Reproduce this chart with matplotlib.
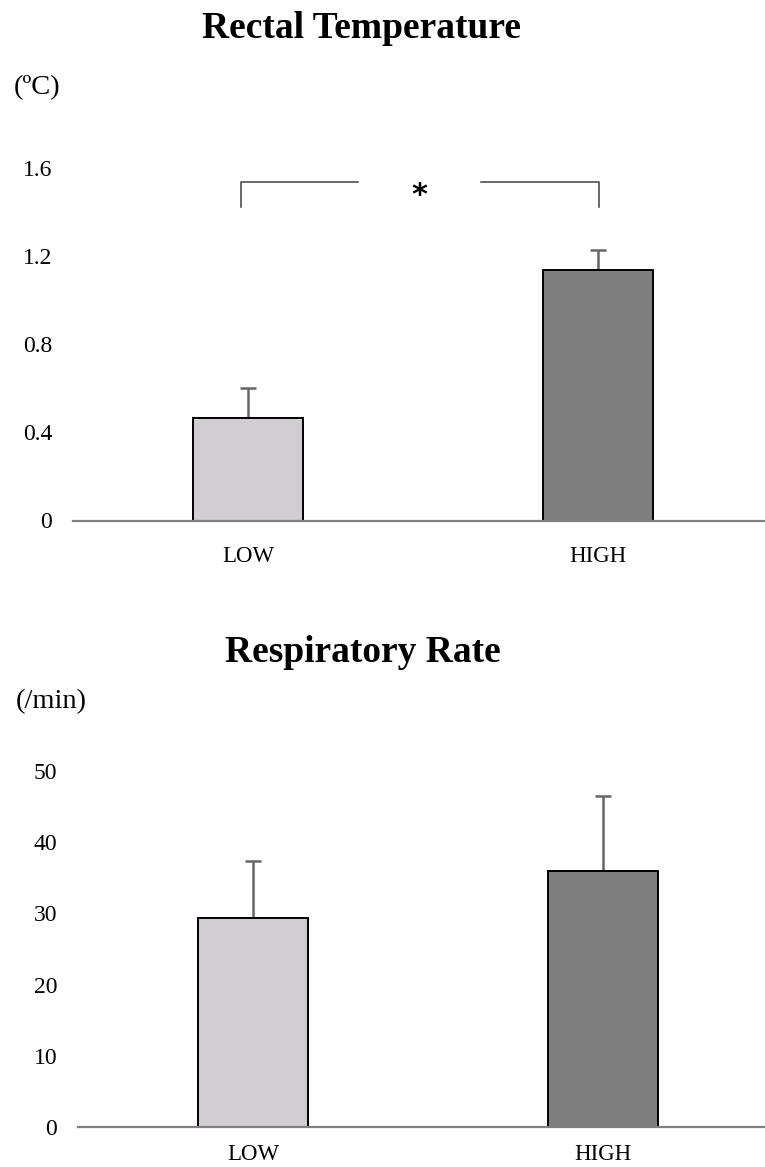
import matplotlib.pyplot as plt
import numpy as np

plt.rcParams['font.family'] = ['Liberation Serif', 'DejaVu Serif']

groups = ['LOW', 'HIGH']
bar_colors = ['#D0CED0', '#7F7F7F']

# Rectal temperature change (ºC), mean and upper SD
temp_mean = [0.466, 1.137]
temp_err = [0.136, 0.089]
temp_ticks = [0, 0.4, 0.8, 1.2, 1.6]
temp_tick_labels = ['0', '0.4', '0.8', '1.2', '1.6']

# Respiratory rate change (/min)
resp_mean = [29.3, 35.95]
resp_err = [8.1, 10.55]
resp_ticks = [0, 10, 20, 30, 40, 50]

W, H = 765, 1167
fig = plt.figure(figsize=(W / 100, H / 100), dpi=100)


def make_axes(left_px, base_px, top_px):
    # axes box in pixel coords -> figure fraction
    return fig.add_axes([left_px / W, (H - base_px) / H,
                         700 / W, (base_px - top_px) / H])


def draw_bars(ax, means, errs, ticks, tick_labels, ymax, xpad):
    x = np.arange(len(groups))
    ax.bar(x, means, width=0.314, color=bar_colors, edgecolor='black',
           linewidth=1.4, zorder=2)
    ax.errorbar(x, means, yerr=[[0] * len(errs), errs], fmt='none',
                ecolor='#666666', elinewidth=1.8, capsize=6, capthick=1.8,
                zorder=1)
    ax.set_xlim(-0.5, 1.5)
    ax.set_ylim(0, ymax)
    ax.set_xticks(x)
    ax.set_xticklabels(groups, fontsize=16.5)
    ax.set_yticks(ticks)
    ax.set_yticklabels(tick_labels, fontsize=17)
    ax.tick_params(axis='both', length=0)
    ax.tick_params(axis='x', pad=xpad)
    ax.tick_params(axis='y', pad=15)
    for side in ['top', 'right', 'left']:
        ax.spines[side].set_visible(False)
    ax.spines['bottom'].set_color('#808080')
    ax.spines['bottom'].set_linewidth(1.6)
    ax.spines['bottom'].set_zorder(3)


ax1 = make_axes(73, 520.5, 168)
draw_bars(ax1, temp_mean, temp_err, temp_ticks, temp_tick_labels, 1.6, 18)

# significance bracket
br_left, br_right = -0.021, 1.003
br_low, br_high = 1.422, 1.535
gap_left, gap_right = 0.314, 0.666
ax1.plot([br_left, br_left, gap_left], [br_low, br_high, br_high],
         color='#404040', lw=1.1, clip_on=False)
ax1.plot([gap_right, br_right, br_right], [br_high, br_high, br_low],
         color='#404040', lw=1.1, clip_on=False)
ax1.text((br_left + br_right) / 2, 1.475, '*', ha='center', va='center',
         fontsize=22, fontweight='bold', family='DejaVu Sans')

ax2 = make_axes(78, 1127, 771)
draw_bars(ax2, resp_mean, resp_err, resp_ticks,
          [str(t) for t in resp_ticks], 50, 12)

fig.text(361 / W, 1 - 29 / H, 'Rectal Temperature', ha='center',
         va='center', fontsize=27, fontweight='bold')
fig.text(363 / W, 1 - 652 / H, 'Respiratory Rate', ha='center',
         va='center', fontsize=27, fontweight='bold')
fig.text(14 / W, 1 - 88 / H, '(ºC)', ha='left', va='center', fontsize=20.5)
fig.text(16 / W, 1 - 702 / H, '(/min)', ha='left', va='center', fontsize=20.5)

fig.savefig('out.png', dpi=100)
plt.close(fig)
